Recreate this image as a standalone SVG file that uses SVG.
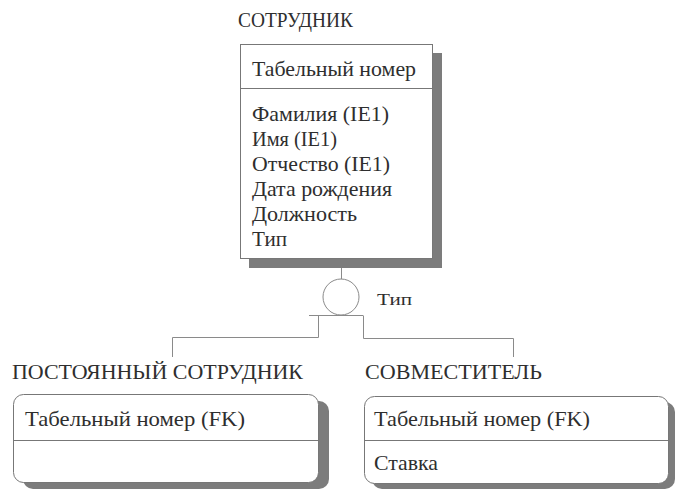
<svg xmlns="http://www.w3.org/2000/svg" width="675" height="491" viewBox="0 0 675 491">
  <defs>
    <style>
      .bg { fill: #ffffff; }
      .title { font-family: "Liberation Serif", "Times New Roman", serif; font-size: 22px; fill: #2e2e2e; }
      .attr { font-family: "Liberation Serif", "Times New Roman", serif; font-size: 21px; fill: #2e2e2e; }
      .lbl { font-family: "Liberation Serif", "Times New Roman", serif; font-size: 17px; fill: #2e2e2e; }
      .box { fill: #ffffff; stroke: #777777; stroke-width: 1; }
      .shadow { fill: #7c7c7c; }
      .div { stroke: #777777; stroke-width: 1; }
      .conn { fill: none; stroke: #8a8a8a; stroke-width: 1; }
    </style>
  </defs>

  <rect class="bg" x="0" y="0" width="675" height="491"/>

  <!-- Supertype entity -->
  <g id="employee">
    <text class="title" x="238" y="27" textLength="115" lengthAdjust="spacingAndGlyphs">СОТРУДНИК</text>
    <rect class="shadow" x="249" y="53" width="193" height="215"/>
    <rect class="box" x="240.5" y="44.5" width="192" height="214"/>
    <line class="div" x1="240.5" y1="88.5" x2="432.5" y2="88.5"/>
    <text class="attr" x="252" y="76" textLength="164" lengthAdjust="spacingAndGlyphs">Табельный номер</text>
    <text class="attr" x="252" y="121" textLength="137" lengthAdjust="spacingAndGlyphs">Фамилия (IE1)</text>
    <text class="attr" x="252" y="146" textLength="85" lengthAdjust="spacingAndGlyphs">Имя (IE1)</text>
    <text class="attr" x="252" y="171" textLength="138" lengthAdjust="spacingAndGlyphs">Отчество (IE1)</text>
    <text class="attr" x="252" y="196" textLength="140" lengthAdjust="spacingAndGlyphs">Дата рождения</text>
    <text class="attr" x="252" y="221" textLength="105" lengthAdjust="spacingAndGlyphs">Должность</text>
    <text class="attr" x="252" y="246" textLength="35" lengthAdjust="spacingAndGlyphs">Тип</text>
  </g>

  <!-- Subtype entity: permanent employee -->
  <g id="permanent">
    <text class="title" x="12" y="379" textLength="291" lengthAdjust="spacingAndGlyphs">ПОСТОЯННЫЙ СОТРУДНИК</text>
    <rect class="shadow" x="23" y="401" width="306" height="88" rx="10"/>
    <rect class="box" x="13.5" y="394.5" width="305" height="88" rx="10"/>
    <line class="div" x1="13.5" y1="440.5" x2="318.5" y2="440.5"/>
    <text class="attr" x="25" y="426" textLength="220" lengthAdjust="spacingAndGlyphs">Табельный номер (FK)</text>
  </g>

  <!-- Subtype entity: part-timer -->
  <g id="parttimer">
    <text class="title" x="365" y="379" textLength="177" lengthAdjust="spacingAndGlyphs">СОВМЕСТИТЕЛЬ</text>
    <rect class="shadow" x="372" y="402" width="303" height="87" rx="10"/>
    <rect class="box" x="364.5" y="396.5" width="304" height="87" rx="10"/>
    <line class="div" x1="364.5" y1="440.5" x2="668.5" y2="440.5"/>
    <text class="attr" x="374" y="426" textLength="216" lengthAdjust="spacingAndGlyphs">Табельный номер (FK)</text>
    <text class="attr" x="374" y="470" textLength="64" lengthAdjust="spacingAndGlyphs">Ставка</text>
  </g>

  <!-- Category (complete subtype) symbol with discriminator -->
  <g id="category">
    <circle class="conn" cx="341" cy="297" r="18"/>
    <line class="conn" x1="309" y1="315.5" x2="363" y2="315.5"/>
    <text class="lbl" x="377" y="305" textLength="35" lengthAdjust="spacingAndGlyphs">Тип</text>
  </g>

  <!-- Connectors -->
  <g id="connectors">
    <line class="conn" x1="341.5" y1="268" x2="341.5" y2="279"/>
    <polyline class="conn" points="318.5,315.5 318.5,337.5 172.5,337.5 172.5,357"/>
    <polyline class="conn" points="363.5,315.5 363.5,338.5 513.5,338.5 513.5,357"/>
  </g>
</svg>
